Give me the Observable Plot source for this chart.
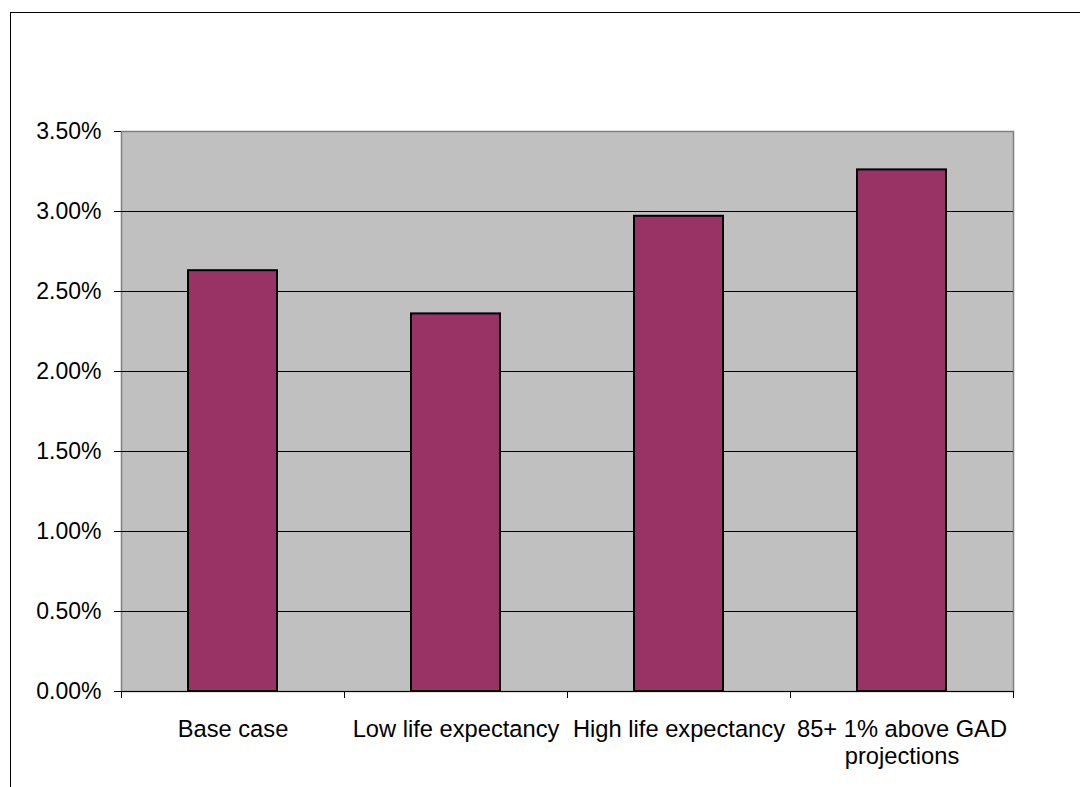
<!DOCTYPE html>
<html>
<head>
<meta charset="utf-8">
<script src="https://cdn.jsdelivr.net/npm/d3@7"></script>
<script src="https://cdn.jsdelivr.net/npm/@observablehq/plot@0.6"></script>
<style>
  html, body { margin: 0; padding: 0; background: #fff; }
  #wrap { position: relative; width: 1080px; height: 787px; overflow: hidden; }
  #border { position: absolute; left: 10px; top: 12px; width: 1200px; height: 900px;
            border-left: 1px solid #000; border-top: 1px solid #000; }
  #chart { position: absolute; left: 0; top: 0; }
</style>
</head>
<body>
<div id="wrap">
  <div id="border"></div>
  <div id="chart"></div>
</div>
<script>
// Scenario names and their rates
const categories = ["Base case", "Low life expectancy", "High life expectancy", "85+ 1% above GAD projections"];
const tickLabels = ["Base case", "Low life expectancy", "High life expectancy", "85+ 1% above GAD\nprojections"];
const rates = [0.0263, 0.0236, 0.0297, 0.0326];
const yTicks = [0, 0.005, 0.01, 0.015, 0.02, 0.025, 0.03, 0.035];

const data = categories.map((c, i) => ({scenario: c, rate: rates[i]}));
const labelOf = new Map(categories.map((c, i) => [c, tickLabels[i]]));

// Short ticks at the boundaries between category bands, hanging below the baseline
function bandBoundaryTicks(index, scales, values, dimensions) {
  const {width, height, marginLeft, marginRight, marginBottom} = dimensions;
  const step = (width - marginLeft - marginRight) / categories.length;
  const y0 = height - marginBottom;
  const g = d3.create("svg:g").attr("stroke", "#000").attr("stroke-width", 1);
  for (let i = 0; i <= categories.length; i++) {
    const x = Math.round(marginLeft + i * step) + 0.5;
    g.append("line").attr("x1", x).attr("x2", x).attr("y1", y0).attr("y2", y0 + 7);
  }
  return g.node();
}

const chart = Plot.plot({
  width: 1080,
  height: 787,
  marginLeft: 121,
  marginRight: 67,
  marginTop: 131,
  marginBottom: 96,
  style: {fontFamily: "'Liberation Sans', Arial, sans-serif", fontSize: "23px", color: "#000", background: "transparent"},
  x: {type: "band", domain: categories, paddingInner: 0.6, paddingOuter: 0.3, axis: null},
  y: {domain: [0, 0.035], axis: null},
  marks: [
    Plot.frame({fill: "#c0c0c0", stroke: "#808080", strokeWidth: 1.5}),
    Plot.gridY(yTicks.slice(1, -1), {stroke: "#000", strokeOpacity: 1, strokeWidth: 1}),
    Plot.barY(data, {x: "scenario", y: "rate", fill: "#993366", stroke: "#000", strokeWidth: 2}),
    Plot.ruleY([0], {stroke: "#000", strokeWidth: 1}),
    Plot.axisY({ticks: yTicks, tickFormat: d3.format(".2%"), tickSize: 7, tickPadding: 13, stroke: "#000", label: null}),
    Plot.axisX({tickSize: 0, tickPadding: 26, tickFormat: d => labelOf.get(d), lineHeight: 1.15, fontSize: 23.7, label: null}),
    bandBoundaryTicks
  ]
});
document.getElementById("chart").appendChild(chart);
</script>
</body>
</html>
